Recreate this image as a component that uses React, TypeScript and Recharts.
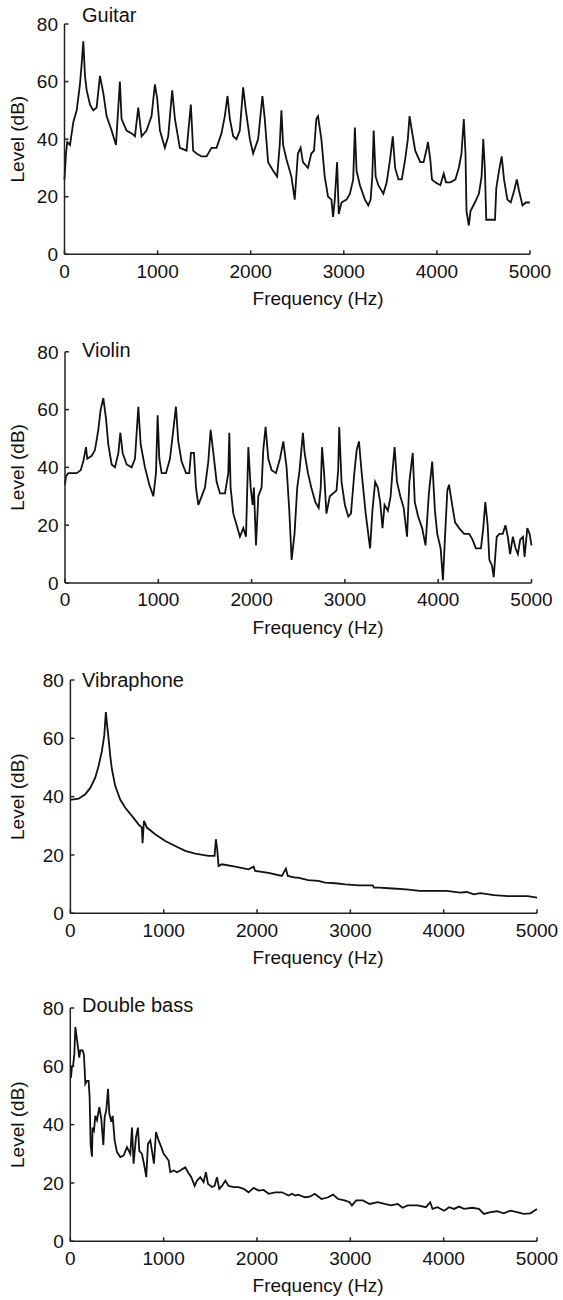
import { LineChart, Line, XAxis, YAxis } from 'recharts'

// frequency (Hz) / level (dB) pairs
const guitarFreq = [0, 16, 30, 59, 95, 131, 166, 184, 202, 220, 238, 274, 309, 345, 381, 417, 452, 506, 553, 595, 613, 667, 721, 757, 792, 828, 881, 935, 971, 996, 1025, 1078, 1114, 1157, 1186, 1239, 1311, 1357, 1382, 1418, 1472, 1526, 1579, 1633, 1686, 1722, 1751, 1776, 1812, 1847, 1883, 1919, 1948, 1991, 2026, 2080, 2126, 2151, 2187, 2241, 2284, 2312, 2330, 2348, 2384, 2437, 2473, 2507, 2536, 2561, 2615, 2651, 2680, 2705, 2723, 2759, 2795, 2831, 2867, 2885, 2903, 2928, 2946, 2975, 3029, 3065, 3101, 3119, 3137, 3173, 3227, 3263, 3288, 3306, 3321, 3342, 3371, 3425, 3461, 3497, 3526, 3551, 3587, 3623, 3659, 3688, 3706, 3731, 3767, 3821, 3857, 3893, 3904, 3929, 3947, 3983, 4037, 4073, 4098, 4145, 4199, 4235, 4264, 4289, 4307, 4318, 4343, 4361, 4408, 4451, 4480, 4498, 4516, 4530, 4559, 4595, 4624, 4638, 4667, 4696, 4721, 4757, 4793, 4829, 4858, 4883, 4919, 4955, 4998]
const guitarLevel = [26, 35, 39, 38, 46, 50, 59, 66, 74, 62, 57, 52, 50, 51, 62, 56, 48, 43, 38, 60, 47, 43, 42, 41, 51, 41, 43, 48, 59, 54, 43, 37, 41, 57, 47, 37, 36, 52, 36, 35, 34, 34, 37, 37, 42, 48, 55, 47, 41, 40, 43, 58, 50, 40, 35, 40, 55, 47, 32, 29, 27, 38, 50, 38, 33, 27, 19, 35, 37, 32, 30, 35, 36, 47, 48, 40, 27, 20, 19, 13, 19, 32, 14, 18, 19, 21, 26, 44, 29, 24, 19, 17, 19, 27, 43, 27, 24, 21, 25, 33, 41, 30, 26, 26, 33, 40, 48, 43, 36, 32, 32, 37, 39, 33, 26, 25, 24, 28, 25, 25, 26, 30, 35, 47, 35, 15, 10, 15, 18, 21, 27, 40, 29, 12, 12, 12, 12, 23, 29, 34, 26, 19, 18, 22, 26, 22, 17, 18, 18]

const violinFreq = [0, 11, 36, 71, 125, 168, 196, 225, 239, 286, 321, 357, 382, 411, 439, 464, 500, 536, 572, 593, 618, 661, 714, 750, 786, 811, 857, 904, 947, 975, 993, 1011, 1036, 1082, 1125, 1161, 1189, 1214, 1250, 1297, 1332, 1350, 1382, 1404, 1429, 1465, 1500, 1536, 1561, 1590, 1625, 1661, 1715, 1750, 1761, 1775, 1804, 1840, 1875, 1911, 1940, 1965, 1990, 2011, 2025, 2047, 2072, 2107, 2125, 2150, 2179, 2215, 2261, 2304, 2340, 2375, 2404, 2429, 2460, 2489, 2514, 2550, 2568, 2604, 2640, 2683, 2719, 2741, 2755, 2777, 2802, 2838, 2874, 2910, 2928, 2939, 2964, 3000, 3036, 3065, 3101, 3126, 3151, 3180, 3223, 3270, 3295, 3324, 3353, 3378, 3403, 3425, 3461, 3490, 3511, 3533, 3558, 3594, 3630, 3666, 3691, 3727, 3749, 3785, 3828, 3864, 3900, 3936, 3965, 3990, 4026, 4051, 4073, 4098, 4116, 4145, 4181, 4224, 4278, 4332, 4368, 4404, 4458, 4483, 4505, 4530, 4548, 4577, 4595, 4627, 4656, 4692, 4721, 4746, 4771, 4800, 4829, 4854, 4879, 4908, 4926, 4955, 4980, 5000]
const violinLevel = [34, 37, 38, 38, 38, 39, 42, 47, 43, 44, 46, 53, 60, 64, 57, 48, 41, 40, 45, 52, 45, 41, 40, 43, 61, 48, 40, 34, 30, 38, 58, 43, 38, 38, 43, 53, 61, 49, 42, 38, 38, 45, 45, 33, 27, 30, 33, 42, 53, 45, 35, 31, 31, 38, 52, 33, 24, 20, 16, 19, 16, 47, 33, 27, 33, 13, 30, 33, 46, 54, 43, 39, 38, 43, 49, 40, 25, 8, 17, 33, 39, 52, 45, 38, 33, 28, 26, 33, 47, 38, 24, 30, 31, 32, 39, 54, 35, 27, 23, 24, 38, 46, 49, 38, 24, 12, 25, 35, 33, 28, 19, 27, 25, 30, 39, 47, 35, 30, 26, 16, 35, 45, 28, 23, 19, 13, 31, 42, 25, 17, 12, 1, 16, 32, 34, 28, 21, 19, 17, 17, 15, 12, 12, 19, 28, 20, 8, 6, 2, 16, 17, 17, 20, 16, 10, 16, 12, 10, 15, 16, 9, 19, 17, 13]

const vibraFreq = [0, 16, 88, 159, 213, 266, 302, 338, 363, 380, 395, 409, 427, 445, 480, 534, 588, 659, 730, 766, 773, 788, 820, 909, 1016, 1123, 1230, 1338, 1480, 1545, 1559, 1573, 1588, 1623, 1766, 1909, 1963, 1980, 2123, 2266, 2309, 2330, 2409, 2439, 2548, 2657, 2729, 2838, 2946, 3091, 3240, 3254, 3308, 3453, 3598, 3743, 3887, 4032, 4177, 4249, 4322, 4394, 4539, 4684, 4829, 4901, 5000]
const vibraLevel = [39, 39, 39.3, 40.8, 43, 46.5, 50.5, 55.7, 61, 69, 64, 60, 54, 49.4, 43.7, 39, 36.2, 33.4, 30.5, 29.4, 24, 31.7, 29.4, 27.1, 24.8, 23.1, 21.4, 20.5, 19.7, 19.7, 25.4, 22, 16.2, 16.8, 16, 15.1, 16, 14.5, 13.9, 12.8, 15.3, 12.8, 12.2, 12.2, 11.4, 11.1, 10.5, 10.3, 9.9, 9.6, 9.6, 8.8, 8.8, 8.5, 8.2, 7.7, 7.7, 7.7, 7.1, 7.3, 6.5, 6.9, 6.2, 5.9, 5.9, 5.9, 5.4]

const bassFreq = [7, 18, 29, 43, 54, 68, 82, 96, 107, 132, 146, 161, 179, 196, 207, 218, 232, 239, 254, 268, 286, 311, 332, 354, 368, 386, 404, 418, 439, 454, 475, 500, 536, 571, 607, 643, 661, 678, 704, 725, 739, 768, 796, 814, 832, 857, 875, 896, 918, 946, 975, 1000, 1025, 1053, 1071, 1107, 1143, 1178, 1232, 1261, 1296, 1332, 1357, 1393, 1428, 1453, 1475, 1518, 1546, 1571, 1596, 1625, 1661, 1696, 1750, 1803, 1857, 1910, 1964, 2018, 2071, 2125, 2196, 2268, 2339, 2375, 2410, 2442, 2513, 2566, 2620, 2691, 2762, 2815, 2868, 2939, 2993, 3017, 3064, 3135, 3206, 3295, 3366, 3437, 3508, 3561, 3614, 3721, 3810, 3856, 3881, 3934, 4005, 4058, 4111, 4165, 4218, 4307, 4378, 4431, 4502, 4573, 4644, 4715, 4786, 4857, 4928, 5000]
const bassLevel = [56, 60, 60, 64, 73.5, 70, 66.7, 63, 65.5, 65.5, 64, 54, 55, 55, 49.5, 33, 29, 39, 38, 43, 41.5, 46, 42, 33, 42.6, 45, 52.3, 43.8, 41, 43, 34.6, 30.6, 28.9, 29.4, 32.3, 30, 39, 26.6, 35.7, 39, 31, 30, 25.4, 22, 33.4, 34.6, 31, 26.6, 37.5, 34.6, 32.3, 30, 29, 27.7, 23.7, 24.3, 23.7, 24.3, 25.4, 23.7, 22, 19, 20.8, 22, 20.3, 23.7, 19.7, 18.6, 19, 22, 18, 19, 20.8, 19, 18.6, 18.6, 18, 16.8, 18.3, 17.4, 17.6, 16.3, 16.8, 16.8, 15.7, 16.3, 15.7, 16, 15.1, 15.3, 16.3, 14.5, 15.1, 16, 14.5, 14, 13.4, 12.3, 14, 14, 12.8, 13.4, 12.8, 12.3, 12.8, 11.5, 12.3, 12.3, 11.7, 13.4, 11.1, 11.7, 10.5, 11.7, 11.1, 11.9, 11.1, 11.5, 11.1, 9.4, 10, 10.3, 9.6, 10.5, 10, 9.4, 9.6, 11.1]

const xTicks = [0, 1000, 2000, 3000, 4000, 5000]
const yTicks = [0, 20, 40, 60, 80]

const FONT = '"Liberation Sans", Arial, Helvetica, sans-serif'
const INK = '#111'
const AXIS = '#222'

function toRows(freq: number[], level: number[]) {
  return freq.map((f, i) => ({ f, db: level[i] }))
}

interface PanelProps {
  title: string
  data: { f: number; db: number }[]
  top: number
  height: number
  plotLeft: number
  plotRight: number
  plotTop: number
  plotBottom: number
  titleCapTop: number
}

function Panel({ title, data, top, height, plotLeft, plotRight, plotTop, plotBottom, titleCapTop }: PanelProps) {
  const axisH = top + height - plotBottom
  const plotCenter = (plotLeft + plotRight) / 2
  return (
    <div style={{ position: 'absolute', left: 0, top, width: 563, height }}>
      <LineChart
        width={563}
        height={height}
        data={data}
        margin={{ top: plotTop - top, right: 563 - plotRight, bottom: 0, left: 0 }}
        style={{ fontFamily: FONT }}
      >
        <XAxis
          type="number"
          dataKey="f"
          domain={[0, 5000]}
          ticks={xTicks}
          interval={0}
          height={axisH}
          tickSize={-4}
          tickMargin={14}
          tick={{ fontSize: 19, fill: INK }}
          axisLine={{ stroke: AXIS, strokeWidth: 1.5 }}
          tickLine={{ stroke: AXIS, strokeWidth: 1.5 }}
          label={{
            value: 'Frequency (Hz)',
            position: 'insideBottom',
            offset: axisH - 51,
            dx: 318 - plotCenter,
            fill: INK,
            fontSize: 19,
          }}
        />
        <YAxis
          type="number"
          domain={[0, 80]}
          ticks={yTicks}
          interval={0}
          width={plotLeft}
          tickSize={-4}
          tickMargin={10.5}
          tick={{ fontSize: 19, fill: INK }}
          axisLine={{ stroke: AXIS, strokeWidth: 1.5 }}
          tickLine={{ stroke: AXIS, strokeWidth: 1.5 }}
          label={{
            value: 'Level (dB)',
            angle: -90,
            position: 'insideLeft',
            offset: 17,
            fill: INK,
            fontSize: 19,
            style: { textAnchor: 'middle' },
          }}
        />
        <Line
          type="linear"
          dataKey="db"
          stroke={INK}
          strokeWidth={1.8}
          strokeLinejoin="miter"
          dot={false}
          activeDot={false}
          isAnimationActive={false}
        />
      </LineChart>
      <div
        style={{
          position: 'absolute',
          left: 82,
          top: titleCapTop - top - 2.6,
          fontFamily: FONT,
          fontSize: 20,
          lineHeight: '20px',
          color: INK,
          whiteSpace: 'nowrap',
        }}
      >
        {title}
      </div>
    </div>
  )
}

export default function App() {
  return (
    <div style={{ position: 'absolute', left: 0, top: 0, width: 563, height: 1300, background: '#fff' }}>
      <Panel title="Guitar" data={toRows(guitarFreq, guitarLevel)} top={0} height={328}
        plotLeft={64.5} plotRight={530} plotTop={24} plotBottom={254.3} titleCapTop={8} />
      <Panel title="Violin" data={toRows(violinFreq, violinLevel)} top={328} height={328}
        plotLeft={65} plotRight={531.5} plotTop={351.8} plotBottom={583} titleCapTop={343} />
      <Panel title="Vibraphone" data={toRows(vibraFreq, vibraLevel)} top={656} height={328}
        plotLeft={70.4} plotRight={537} plotTop={680} plotBottom={913.3} titleCapTop={673} />
      <Panel title="Double bass" data={toRows(bassFreq, bassLevel)} top={984} height={316}
        plotLeft={70.3} plotRight={537} plotTop={1008} plotBottom={1241.3} titleCapTop={998} />
    </div>
  )
}
